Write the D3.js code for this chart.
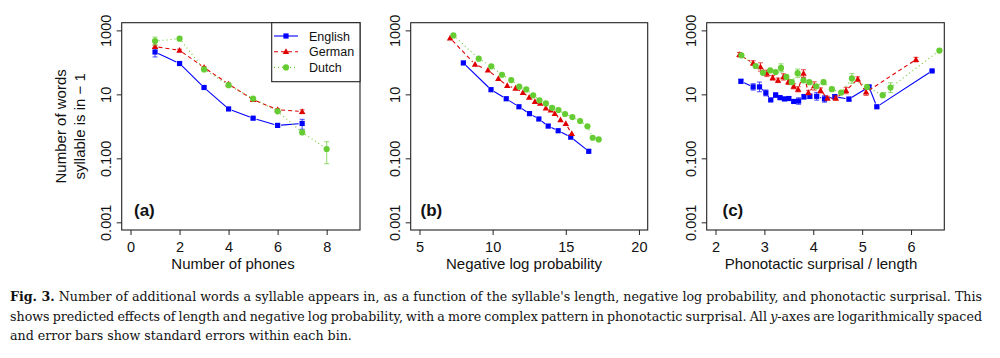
<!DOCTYPE html>
<html><head><meta charset="utf-8">
<script src="https://cdn.jsdelivr.net/npm/d3@7"></script>
<style>body{margin:0;background:#fff}svg{display:block}</style>
</head><body><svg id="c" width="1000" height="358"></svg>
<script>
// ---------- DATA ----------
const seriesNames = ["English", "German", "Dutch"];
const yTickValues = [0.001, 0.1, 10, 1000];
const yTickLabels = ["0.001", "0.100", "10", "1000"];

// Panel (a): number of phones
const aTicks = [0, 2, 4, 6, 8];
const aEngX = [1, 2, 3, 4, 5, 6, 7];
const aEngY = [211, 92, 16.4, 3.5, 1.8, 1.07, 1.23];
const aEngLo = [148, 85, 15.5, 3.3, 1.7, 1.0, 0.81];
const aEngHi = [275, 99, 17.3, 3.7, 1.9, 1.14, 1.66];
const aGerX = [1, 2, 3, 4, 5, 6, 7];
const aGerY = [310, 238, 69, 21, 6.8, 3.3, 2.9];
const aGerLo = [280, 220, 64, 19.5, 6.3, 3.0, 2.5];
const aGerHi = [345, 258, 74, 22.6, 7.3, 3.6, 3.3];
const aDutX = [1, 2, 3, 4, 5, 6, 7, 8];
const aDutY = [465, 550, 60, 19.4, 7.4, 2.95, 0.65, 0.196];
const aDutLo = [347, 510, 56, 18.3, 6.9, 2.75, 0.55, 0.068];
const aDutHi = [617, 590, 64, 20.5, 7.9, 3.15, 0.76, 0.33];

// Panel (b): negative log probability
const bTicks = [5, 10, 15, 20];
const bEngX = [8.0, 9.89, 10.93, 11.8, 12.52, 13.16, 13.8, 14.48, 15.34, 16.57];
const bEngY = [96, 14, 7.3, 4.1, 2.5, 1.7, 1.02, 0.73, 0.46, 0.166];
const bGerX = [7.09, 8.8, 9.68, 10.39, 11.0, 11.57, 12.07, 12.5, 12.89, 13.25, 13.64, 13.98, 14.25, 14.64, 15.0, 15.41];
const bGerY = [575, 87, 57, 31, 18.6, 15.5, 11.3, 8.1, 5.9, 5.2, 3.7, 3.24, 2.5, 1.58, 1.21, 0.59];
const bDutX = [7.32, 9.05, 9.91, 10.64, 11.27, 11.82, 12.3, 12.77, 13.2, 13.64, 14.07, 14.5, 14.95, 15.45, 15.98, 16.48, 16.84, 17.25];
const bDutY = [696, 130, 75, 41, 28, 17.4, 14.3, 9.3, 6.5, 5.2, 3.8, 3.24, 2.43, 1.95, 1.47, 1.0, 0.44, 0.39];

// Panel (c): phonotactic surprisal / length
const cTicks = [2, 3, 4, 5, 6];
const cEngX = [2.52, 2.77, 2.90, 3.03, 3.13, 3.23, 3.32, 3.41, 3.50, 3.60, 3.70, 3.81, 3.93, 4.07, 4.23, 4.44, 4.73, 5.14, 5.30, 6.43];
const cEngY = [25.6, 17.1, 17.1, 11.1, 6.7, 9.5, 7.9, 7.2, 7.4, 6.0, 6.2, 8.4, 8.7, 8.7, 7.2, 8.4, 7.1, 17.1, 4.1, 54];
const cEngLo = [22.3, 13.6, 12.1, 9.0, 6.25, 8.1, 7.2, 6.4, 6.45, 5.5, 4.9, 7.15, 7.4, 6.6, 5.7, 7.15, 6.2, 15.2, 3.8, 51.6];
const cEngHi = [29.4, 21.5, 24.2, 13.7, 7.18, 11.2, 8.7, 8.1, 8.5, 6.6, 7.8, 9.9, 10.2, 11.5, 9.1, 9.9, 8.15, 19.2, 4.4, 56.6];
const cGerX = [2.49, 2.77, 2.92, 3.05, 3.17, 3.28, 3.39, 3.49, 3.60, 3.69, 3.80, 3.90, 4.02, 4.15, 4.29, 4.46, 4.67, 4.91, 5.08, 6.10];
const cGerY = [174, 95, 72, 45, 33, 27.5, 35, 24.5, 17.9, 14.4, 45, 11.4, 18.3, 13.2, 7.6, 7.6, 13.2, 30, 11.7, 122];
const cGerLo = [148, 81, 53, 36, 28, 23.4, 28, 20.4, 14.9, 12.0, 34, 9.7, 13.6, 11.0, 6.6, 6.5, 10.5, 25.5, 9.3, 104];
const cGerHi = [204, 112, 97, 57, 39, 32.3, 44, 29.5, 21.5, 17.3, 59, 13.4, 24.7, 15.9, 8.7, 8.9, 16.6, 35.3, 14.7, 143];
const cDutX = [2.53, 2.82, 2.97, 3.12, 3.23, 3.34, 3.45, 3.56, 3.68, 3.80, 3.92, 4.06, 4.21, 4.38, 4.57, 4.79, 5.10, 5.42, 5.58, 6.58];
const cDutY = [166, 77, 47, 56, 50, 67, 35, 24, 46, 27.5, 24, 17.9, 24, 14.5, 11.4, 31.5, 17, 9.4, 16.3, 234];
const cDutLo = [148, 70, 43, 51, 44.6, 50, 31, 20.9, 34, 24, 21.9, 16, 20.9, 12.6, 10.2, 22.3, 14.5, 8.4, 11.5, 204];
const cDutHi = [186, 84, 51.5, 61.4, 56, 90, 39, 27.6, 62, 31.6, 26.3, 20, 27.6, 16.6, 12.8, 44.5, 20, 10.5, 23, 269];

const captionLines = [
  "Number of additional words a syllable appears in, as a function of the syllable's length, negative log probability, and phonotactic surprisal. This",
  "shows predicted effects of length and negative log probability, with a more complex pattern in phonotactic surprisal. All |y|-axes are logarithmically spaced",
  "and error bars show standard errors within each bin."
];

// ---------- STYLE ----------
const colors = { English: "#0000ff", German: "#e00000", Dutch: "#66cc33" };
const dashes = { English: null, German: "4,3", Dutch: "1,3" };
const TOP = 22.7, BOT = 230;

const svg = d3.select("#c");

function mk(x, y, lo, hi) {
  return x.map((v, i) => ({ x: v, y: y[i], lo: lo ? lo[i] : null, hi: hi ? hi[i] : null }));
}

const panels = [
  { L: 121.7, R: 360, lim: [0, 9], ticks: aTicks, label: "Number of phones", labelX: 233, tag: "(a)", tagX: 134,
    data: { English: mk(aEngX, aEngY, aEngLo, aEngHi), German: mk(aGerX, aGerY, aGerLo, aGerHi), Dutch: mk(aDutX, aDutY, aDutLo, aDutHi) },
    legend: true, ylab: true },
  { L: 410.7, R: 647.7, lim: [5, 20], ticks: bTicks, label: "Negative log probability", labelX: 524, tag: "(b)", tagX: 420.5,
    data: { English: mk(bEngX, bEngY), German: mk(bGerX, bGerY), Dutch: mk(bDutX, bDutY) } },
  { L: 706.7, R: 944.3, lim: [2, 6.5], ticks: cTicks, label: "Phonotactic surprisal / length", labelX: 821, tag: "(c)", tagX: 722.5,
    data: { English: mk(cEngX, cEngY, cEngLo, cEngHi), German: mk(cGerX, cGerY, cGerLo, cGerHi), Dutch: mk(cDutX, cDutY, cDutLo, cDutHi) } }
];

function marker(g, name, cx, cy) {
  const c = colors[name];
  if (name === "English") {
    g.append("rect").attr("x", cx - 2.6).attr("y", cy - 2.6).attr("width", 5.2).attr("height", 5.2).attr("fill", c);
  } else if (name === "German") {
    const s = 3.4;
    g.append("path").attr("d", `M${cx},${cy - s}L${cx + s * 0.95},${cy + s * 0.7}L${cx - s * 0.95},${cy + s * 0.7}Z`).attr("fill", c);
  } else {
    g.append("circle").attr("cx", cx).attr("cy", cy).attr("r", 3.1).attr("fill", c);
  }
}

panels.forEach(p => {
  const span = p.lim[1] - p.lim[0];
  const x = d3.scaleLinear().domain([p.lim[0] - 0.04 * span, p.lim[1] + 0.04 * span]).range([p.L, p.R]);
  const y = d3.scaleLog().domain([Math.pow(10, -3.24), Math.pow(10, 3.24)]).range([BOT, TOP]);
  const g = svg.append("g");

  const xa = g.append("g").attr("transform", `translate(0,${BOT})`)
    .call(d3.axisBottom(x).tickValues(p.ticks).tickFormat(d3.format("d")).tickSize(5).tickPadding(6.5));
  xa.select(".domain").remove();
  xa.selectAll("line").attr("stroke", "#222");
  xa.selectAll("text").attr("font-family", "Liberation Sans, Arial, sans-serif").attr("font-size", 14.5).attr("fill", "#111");

  const ya = g.append("g").attr("transform", `translate(${p.L},0)`)
    .call(d3.axisLeft(y).tickValues(yTickValues).tickFormat((d, i) => yTickLabels[i]).tickSize(5));
  ya.select(".domain").remove();
  ya.selectAll("line").attr("stroke", "#222");
  ya.selectAll("text").attr("x", null).attr("dy", null).attr("text-anchor", "middle")
    .attr("transform", "translate(-10.5,0) rotate(-90)")
    .attr("font-family", "Liberation Sans, Arial, sans-serif").attr("font-size", 14.5).attr("fill", "#111");

  g.append("rect").attr("x", p.L).attr("y", TOP).attr("width", p.R - p.L).attr("height", BOT - TOP)
    .attr("fill", "none").attr("stroke", "#222").attr("stroke-width", 1.1);

  g.append("text").attr("x", p.labelX).attr("y", 269).attr("text-anchor", "middle")
    .attr("font-family", "Liberation Sans, Arial, sans-serif").attr("font-size", 15).attr("fill", "#111").text(p.label);

  g.append("text").attr("x", p.tagX).attr("y", 215.5).attr("font-family", "Liberation Sans, Arial, sans-serif")
    .attr("font-weight", "bold").attr("font-size", 17).attr("fill", "#111").text(p.tag);

  seriesNames.forEach(name => {
    const pts = p.data[name].map(d => ({ ...d, px: x(d.x), py: y(d.y) }));
    const gap = 3.5;
    for (let i = 0; i < pts.length - 1; i++) {
      const a = pts[i], b = pts[i + 1];
      const dx = b.px - a.px, dy = b.py - a.py, len = Math.hypot(dx, dy);
      if (len <= 2 * gap) continue;
      const ux = dx / len, uy = dy / len;
      g.append("line").attr("x1", a.px + ux * gap).attr("y1", a.py + uy * gap)
        .attr("x2", b.px - ux * gap).attr("y2", b.py - uy * gap)
        .attr("stroke", colors[name]).attr("stroke-width", 1.1)
        .attr("stroke-dasharray", dashes[name]);
    }
    pts.forEach(d => {
      if (d.lo != null) {
        const eg = g.append("g").attr("stroke", colors[name]).attr("stroke-opacity", 0.65).attr("stroke-width", 1.1);
        const ylo = y(d.lo), yhi = y(d.hi);
        eg.append("line").attr("x1", d.px).attr("x2", d.px).attr("y1", ylo).attr("y2", yhi);
        eg.append("line").attr("x1", d.px - 2.5).attr("x2", d.px + 2.5).attr("y1", ylo).attr("y2", ylo);
        eg.append("line").attr("x1", d.px - 2.5).attr("x2", d.px + 2.5).attr("y1", yhi).attr("y2", yhi);
      }
    });
    pts.forEach(d => marker(g, name, d.px, d.py));
  });

  if (p.ylab) {
    const cy = (TOP + BOT) / 2;
    [["Number of words", 60.5], ["syllable is in \u2212 1", 80]].forEach(([t, xx]) => {
      g.append("text").attr("transform", `translate(${xx + 5},${cy}) rotate(-90)`).attr("text-anchor", "middle")
        .attr("font-family", "Liberation Sans, Arial, sans-serif").attr("font-size", 15).attr("fill", "#111").text(t);
    });
  }

  if (p.legend) {
    const lx = 271.7, ly = TOP;
    const lg = g.append("g");
    lg.append("rect").attr("x", lx).attr("y", ly).attr("width", p.R - lx).attr("height", 59)
      .attr("fill", "#fff").attr("stroke", "#222").attr("stroke-width", 1.1);
    seriesNames.forEach((name, i) => {
      const yy = 36 + i * 15.7;
      lg.append("line").attr("x1", 274).attr("x2", 298).attr("y1", yy).attr("y2", yy)
        .attr("stroke", colors[name]).attr("stroke-width", 1.1).attr("stroke-dasharray", dashes[name]);
      marker(lg, name, 286, yy);
      lg.append("text").attr("x", 309).attr("y", yy + 4.5).attr("font-family", "Liberation Sans, Arial, sans-serif")
        .attr("font-size", 12.5).attr("fill", "#111").text(name);
    });
  }
});

// ---------- CAPTION ----------
const capFont = "DejaVu Serif, serif";
const capBase = [301, 320.5, 340];
const capX = 10, capW = 972;

function buildLine(i, size) {
  const line = captionLines[i];
  const t = svg.append("text").attr("x", capX).attr("y", capBase[i])
    .attr("font-family", capFont).attr("font-size", size).attr("fill", "#111");
  if (i === 0) {
    t.append("tspan").attr("font-weight", "bold").text("Fig. 3.");
    t.append("tspan").text(" " + line);
  } else {
    line.split("|").forEach((s, k) => {
      const ts = t.append("tspan").text(s);
      if (k % 2 === 1) ts.attr("font-style", "italic");
    });
  }
  return t;
}
let t0 = buildLine(0, 12);
const nat0 = t0.node().getComputedTextLength();
const capSize = 12 * capW / nat0;
t0.remove();
[0, 1, 2].forEach(i => {
  const t = buildLine(i, capSize);
  if (i < 2) {
    const natural = t.node().getComputedTextLength();
    const full = (i === 0 ? "Fig. 3. " + captionLines[0] : captionLines[i].replace(/\|/g, ""));
    const spaces = (full.match(/ /g) || []).length;
    t.attr("word-spacing", (capW - natural) / spaces);
  }
});
</script></body></html>
